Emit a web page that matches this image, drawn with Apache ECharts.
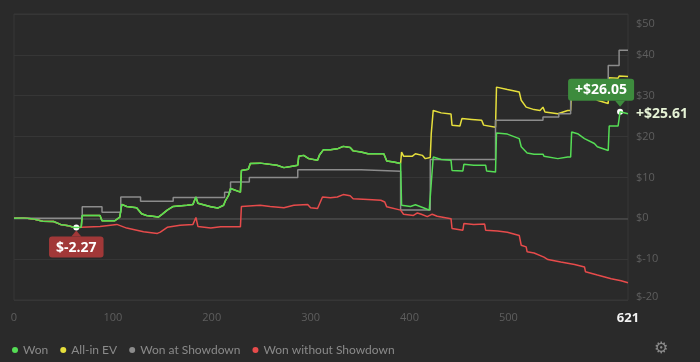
<!DOCTYPE html>
<html>
<head>
<meta charset="utf-8">
<script src="https://cdn.jsdelivr.net/npm/echarts@6/dist/echarts.min.js"></script>
<style>
html,body{margin:0;padding:0;background:#2a2a2a;}
#chart{width:700px;height:362px;}
</style>
</head>
<body>
<div id="chart"></div>
<script>
// ---- data (hand number, cumulative $) ----
const seriesNames = ['Won', 'All-in EV', 'Won at Showdown', 'Won without Showdown'];
const xTickLabels = [0, 100, 200, 300, 400, 500, 621];
const yTickLabels = [-20, -10, 0, 10, 20, 30, 40, 50];

const won = [[0,0],[9,0.1],[20,-0.2],[29,-0.7],[40,-0.8],[47,-1.5],[55,-1.8],[60,-2.2],[63,-2.27],[68,-2.2],
  [69,0.7],[87,0.7],[89,-0.6],[102,-0.6],[107,0.3],[108,0.4],[109,3.4],[114,2.9],[124,2.6],[129,1.1],[134,0.7],
  [146,0.3],[150,1.0],[155,2.0],[161,2.9],[175,3.2],[181,3.4],[184,5.2],[186,3.7],[199,2.8],[206,2.5],[212,3.2],
  [214,4.4],[217,5.6],[219,7.3],[221,7.0],[229,6.4],[230,11.7],[237,12.0],[239,13.4],[249,13.5],[266,13.0],
  [273,12.4],[280,12.7],[287,13.0],[288,15.2],[293,15.4],[298,14.6],[307,14.2],[309,15.5],[313,16.8],[320,16.8],
  [327,17.0],[333,17.6],[340,17.3],[343,16.5],[351,16.2],[358,15.8],[374,15.8],[377,14.0],[384,13.8],[391,13.4],
  [392,3.2],[401,2.9],[406,3.3],[416,2.4],[420,2.0],[422,8.5],[424,15.0],[432,14.4],[442,14.2],[443,11.7],
  [454,11.6],[455,13.2],[465,13.0],[477,13.0],[478,11.6],[487,11.3],[488,20.9],[499,20.6],[511,19.5],[513,17.5],
  [519,16.0],[526,15.7],[535,15.7],[536,15.2],[550,14.6],[560,15.0],[563,15.0],[564,21.1],[570,20.7],[577,19.5],
  [587,18.3],[590,17.5],[601,16.6],[602,22.6],[611,22.6],[613,26.05],[614,25.6],[621,25.61]];

// All-in EV equals Won until hand 391, then:
const allInEvSplitHand = 391;
const allInEvTail = [[392,16.2],[394,15.2],[403,15.2],[406,15.8],[413,15.4],[416,14.6],[421,14.9],[422,20.7],
  [424,26.4],[432,25.8],[442,25.5],[443,22.8],[451,22.6],[453,24.4],[463,24.2],[473,24.0],[475,22.8],[487,22.3],
  [488,32.1],[499,31.5],[511,30.9],[513,28.9],[518,27.2],[526,26.6],[532,26.4],[535,27.2],[537,26.0],[550,25.6],
  [560,26.4],[563,26.4],[564,32.5],[570,32.1],[577,30.9],[587,29.7],[590,28.9],[601,28.1],[602,34.4],[611,34.3],
  [612,34.8],[621,34.7]];

// Won at Showdown (step values)
const showdown = [[0,0],[69,2.8],[89,1.5],[108,5.2],[128,4.2],[161,5.1],[213,6.4],[219,8.9],[238,10.0],
  [287,11.9],[351,11.5],[391,2.0],[421,14.4],[487,24.0],[535,24.8],[551,25.6],[563,30.0],[601,37.4],[612,41.1],[621,41.1]];

// Won without Showdown equals Won until hand 68, then:
const nonShowdownSplitHand = 68;
const nonShowdownTail = [[69,-2.3],[87,-2.0],[104,-1.5],[114,-2.4],[131,-3.3],[145,-3.7],[148,-3.4],[155,-2.2],
  [168,-1.7],[181,-1.5],[184,0.2],[186,-2.0],[199,-2.4],[209,-2.1],[229,-2.1],[230,2.9],[249,3.2],[259,2.9],
  [273,2.6],[283,3.2],[297,3.4],[300,2.6],[307,2.4],[312,5.2],[320,5.0],[327,5.2],[333,5.8],[340,5.5],[343,4.8],
  [358,4.6],[371,4.4],[375,4.0],[377,2.8],[391,2.0],[394,1.0],[404,0.7],[408,1.3],[412,1.0],[418,0.4],[423,1.0],
  [428,0.5],[442,-0.1],[443,-2.5],[454,-2.9],[455,-1.3],[465,-1.5],[476,-1.4],[477,-2.9],[489,-3.1],[499,-3.4],
  [511,-4.2],[513,-6.6],[518,-7.0],[519,-8.2],[526,-8.5],[536,-9.5],[540,-10.1],[553,-10.7],[567,-11.3],
  [577,-11.9],[578,-13.1],[590,-13.9],[604,-14.8],[614,-15.3],[621,-15.8]];

const minPoint = [63, -2.27];
const maxPoint = [613, 26.05];
const finalValue = 25.61;

// ---- build ----
const allInEv = won.filter(p => p[0] <= allInEvSplitHand).concat(allInEvTail);
const nonShowdown = won.filter(p => p[0] <= nonShowdownSplitHand).concat(nonShowdownTail);
const fmtMoney = v => (v >= 0 ? '+$' : '$') + v.toFixed(2);

const colors = { won: '#55dd55', ev: '#e6df3c', sd: '#8c8c8c', nsd: '#e74b4b' };
const FONT = '"Open Sans", "Noto Sans", sans-serif';
const LFONT = 'Lato, "Open Sans", sans-serif';

const chart = echarts.init(document.getElementById('chart'), null, { renderer: 'canvas' });
chart.setOption({
  animation: false,
  backgroundColor: '#2a2a2a',
  textStyle: { fontFamily: FONT },
  grid: { left: 14, right: 72, top: 14, bottom: 62, show: true, borderColor: '#363636', borderWidth: 1 },
  legend: {
    data: seriesNames,
    left: 7, top: 339,
    icon: 'circle', itemWidth: 6, itemHeight: 6, itemGap: 12,
    textStyle: { color: '#8a8a8a', fontSize: 12, fontFamily: LFONT },
    selectedMode: false
  },
  xAxis: {
    type: 'value', min: 0, max: 621,
    axisLine: { show: false }, axisTick: { show: false }, splitLine: { show: false },
    axisLabel: {
      customValues: xTickLabels,
      margin: 12,
      color: '#5e5e5e', fontSize: 11, fontFamily: FONT,
      formatter: v => v === 621 ? '{last|' + v + '}' : String(v),
      rich: { last: { color: '#f2f2f2', fontWeight: 'bold', fontSize: 13, fontFamily: FONT } }
    }
  },
  yAxis: {
    type: 'value', position: 'right', min: -20, max: 50, interval: 10,
    axisLine: { show: false }, axisTick: { show: false },
    splitLine: { lineStyle: { color: '#363636', width: 1 } },
    axisLabel: {
      margin: 8, color: '#5e5e5e', fontSize: 11, fontFamily: FONT,
      formatter: v => v === 50 ? '{top|$' + v + '}' : (v === -20 ? '{bot|$' + v + '}' : '{n|$' + v + '}'),
      rich: {
        n: { color: '#5e5e5e', fontSize: 11, fontFamily: FONT },
        top: { color: '#5e5e5e', fontSize: 11, fontFamily: FONT, padding: [20, 0, 0, 0] },
        bot: { color: '#5e5e5e', fontSize: 11, fontFamily: FONT, padding: [0, 0, 6, 0] }
      }
    }
  },
  series: [
    {
      name: 'All-in EV', type: 'line', data: allInEv, z: 2, symbol: 'none',
      color: colors.ev, lineStyle: { width: 1.5, color: colors.ev }
    },
    {
      name: 'Won at Showdown', type: 'line', data: showdown, step: 'end', z: 3, symbol: 'none',
      color: colors.sd, lineStyle: { width: 1.5, color: colors.sd }
    },
    {
      name: 'Won without Showdown', type: 'line', data: nonShowdown, z: 4, symbol: 'none',
      color: colors.nsd, lineStyle: { width: 1.5, color: colors.nsd },
      markLine: {
        silent: true, symbol: 'none', label: { show: false },
        lineStyle: { color: '#4a4a4a', width: 1.5, type: 'solid' },
        data: [{ yAxis: 0 }], z: 1
      }
    },
    {
      name: 'Won', type: 'line', data: won, z: 5, symbol: 'none',
      color: colors.won, lineStyle: { width: 1.5, color: colors.won },
      endLabel: {
        show: true, distance: 8,
        formatter: () => fmtMoney(finalValue),
        color: '#e6f3d6', fontWeight: 'bold', fontSize: 14, fontFamily: FONT
      },
      markPoint: {
        silent: true, animation: false,
        data: [
          { coord: minPoint, symbol: 'triangle', symbolSize: [10, 6], symbolOffset: [0, 6],
            itemStyle: { color: '#a13838' },
            label: { show: true, position: 'bottom', distance: 0, formatter: fmtMoney(minPoint[1]),
              color: '#fff', fontWeight: 'bold', fontSize: 14, fontFamily: FONT,
              backgroundColor: '#a13838', padding: [4, 7, 3, 7], borderRadius: 3 } },
          { coord: maxPoint, symbol: 'triangle', symbolRotate: 180, symbolSize: [10, 6], symbolOffset: [0, -8],
            itemStyle: { color: '#3d8b3d' },
            label: { show: true, position: 'top', distance: 0, offset: [-19, 0], formatter: fmtMoney(maxPoint[1]),
              color: '#fff', fontWeight: 'bold', fontSize: 14, fontFamily: FONT,
              backgroundColor: '#3d8b3d', padding: [4, 7, 4, 7], borderRadius: 3 } },
          { coord: minPoint, symbol: 'circle', symbolSize: 6, itemStyle: { color: '#ffffff' }, label: { show: false } },
          { coord: maxPoint, symbol: 'circle', symbolSize: 6, itemStyle: { color: '#ffffff' }, label: { show: false } }
        ]
      }
    }
  ],
  graphic: [
    { type: 'text', left: 654, top: 341, style: { text: '\u2699', fill: '#8a8a8a', font: '16px "DejaVu Sans"' } }
  ]
});
</script>
</body>
</html>
